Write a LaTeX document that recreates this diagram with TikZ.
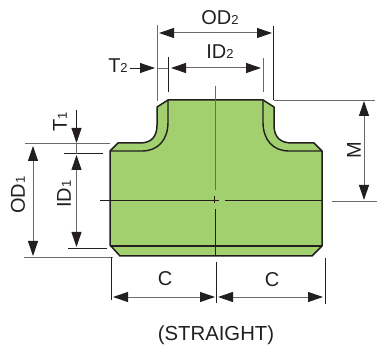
\documentclass[tikz,border=0pt]{standalone}
\usepackage{fontspec}
\setmainfont{Liberation Sans}
\usetikzlibrary{arrows.meta}
\definecolor{pipe}{HTML}{A3D06F}
\definecolor{ink}{HTML}{231F20}
\definecolor{dimc}{HTML}{6A6A6A}
\newcommand{\lab}[2]{{\fontsize{20}{20}\selectfont #1\fontsize{13}{13}\selectfont #2}}
\tikzset{x=1pt,y=-1pt,
 body/.style={draw=ink,line width=1.5pt,line join=round},
 inner/.style={draw=ink,line width=1.4pt},
 ext/.style={draw=dimc,line width=.9pt},
 extk/.style={draw=ink,line width=.8pt},
 center/.style={draw=ink,line width=.8pt},
 dimen/.style={draw=dimc,line width=1pt,{Triangle[length=15pt,width=10pt,color=ink]}-{Triangle[length=15pt,width=10pt,color=ink]}},
 dimend/.style={draw=dimc,line width=1pt,-{Triangle[length=15pt,width=10pt,color=ink]}},
 txt/.style={text=ink,inner sep=0pt}}
\begin{document}
\begin{tikzpicture}
\useasboundingbox (0,0) rectangle (377,352);
% body
\path[body,fill=pipe] (168,100) -- (263,100) -- (274,107) -- (274,125)
  .. controls (274,137) and (280,143) .. (292,143) -- (314,143) -- (322,151)
  -- (322,246) -- (312,256) -- (120,256) -- (110,245) -- (110,151) -- (118,143)
  -- (140,143) .. controls (151,143) and (157,137) .. (157,125) -- (157,107) -- cycle;
\draw[inner] (168,100) -- (168,122) .. controls (168,140) and (158,151) .. (142,151) -- (110,151);
\draw[inner] (263,100) -- (263,122) .. controls (263,140) and (273,151) .. (289,151) -- (322,151);
\draw[inner] (110,246) -- (322,246);
% centre lines
\draw[center,draw=dimc] (215,86) -- (215,190);
\draw[center] (214.5,196) -- (214.5,203);
\draw[center] (215.5,209) -- (215.5,256);
\draw[center] (100,200.5) -- (219,200.5);
\draw[center] (225,200.5) -- (322,200.5);
% extension lines
\draw[ext] (157,25) -- (157,101);
\draw[extk] (273.5,26) -- (273.5,100);
\draw[ext] (274,100) -- (375,100);
\draw[extk] (168,57) -- (168,92);
\draw[ext] (263.5,58) -- (263.5,92);
\draw[ext] (332,201) -- (377,201);
\draw[ext] (25,143.5) -- (110,143.5);
\draw[ext] (24,257.5) -- (113,257.5);
\draw[extk] (64,153.5) -- (103,153.5);
\draw[extk] (68,248) -- (107,248);
\draw[extk] (111.5,257) -- (111.5,300);
\draw[extk] (216,262) -- (216,303);
\draw[extk] (325.5,258) -- (325.5,304);
% dimensions
\draw[dimen] (159,33) -- (272,33);
\draw[dimen] (171,68) -- (261,68);
\draw[ext] (157,68) -- (168,68);
\draw[dimend,draw=ink,line width=.8pt] (130,68) -- (155,68);
\draw[dimen] (33,146) -- (33,256);
\draw[dimen] (76.5,155) -- (76.5,247);
\draw[dimend,draw=ink,line width=.8pt] (76.5,110) -- (76.5,143);
\draw[ext] (76.5,143) -- (76.5,154);
\draw[dimen] (364,101) -- (364,200);
\draw[dimen] (113,297) -- (215,297);
\draw[dimen] (218,297) -- (323,297);
% labels
\node[txt] (od2) at (220,18) {\lab{OD}{2}};
\node[txt] (id2) at (220,52) {\lab{ID}{2}};
\node[txt] (t2) at (118,66) {\lab{T}{2}};
\node[txt,rotate=90] (t1) at (60,122) {\lab{T}{1}};
\node[txt,rotate=90] (od1) at (18,195) {\lab{OD}{1}};
\node[txt,rotate=90] (id1) at (64,194) {\lab{ID}{1}};
\node[txt,rotate=90] (m) at (354,150) {\lab{M}{}};
\node[txt] (c1) at (165,279) {\lab{C}{}};
\node[txt] (c2) at (272,280) {\lab{C}{}};
\node[txt] (cap) at (216,335) {\fontsize{20.3}{20}\selectfont (STRAIGHT)};
\end{tikzpicture}
\end{document}
